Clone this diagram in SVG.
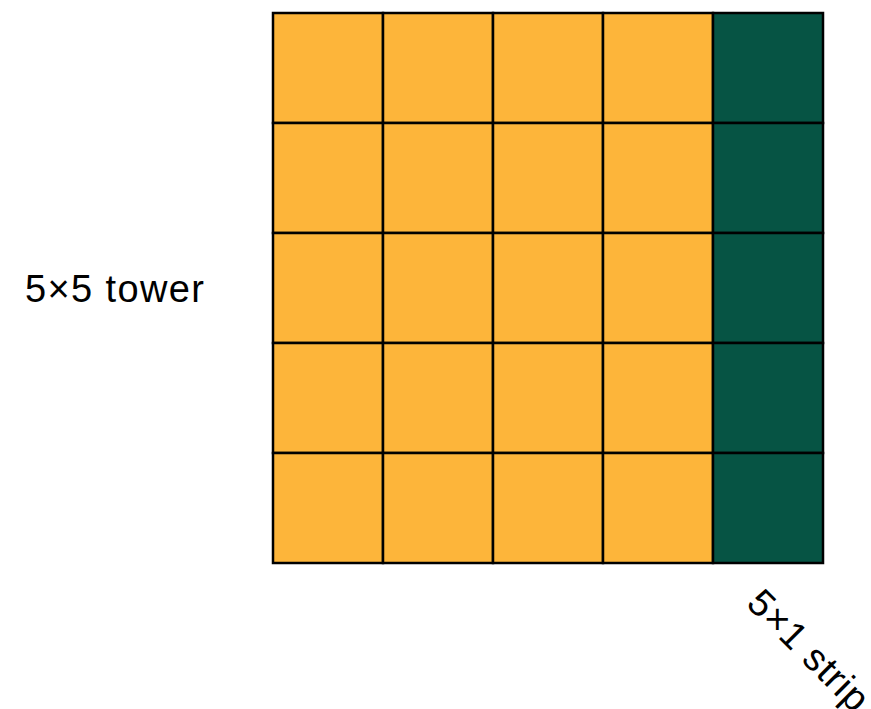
<svg xmlns="http://www.w3.org/2000/svg" width="871" height="709" viewBox="0 0 871 709">
<style>
.o{fill:#FDB53A;stroke:#000;stroke-width:2.5}
.g{fill:#065444;stroke:#000;stroke-width:2.5}
.t{font-family:"Liberation Sans",Arial,sans-serif;font-size:38px;fill:#000}
</style>
<rect width="871" height="709" fill="#fff"/>
<g id="tower">
<rect class="o" x="273" y="13" width="110" height="110"/><rect class="o" x="383" y="13" width="110" height="110"/><rect class="o" x="493" y="13" width="110" height="110"/><rect class="o" x="603" y="13" width="110" height="110"/>
<rect class="o" x="273" y="123" width="110" height="110"/><rect class="o" x="383" y="123" width="110" height="110"/><rect class="o" x="493" y="123" width="110" height="110"/><rect class="o" x="603" y="123" width="110" height="110"/>
<rect class="o" x="273" y="233" width="110" height="110"/><rect class="o" x="383" y="233" width="110" height="110"/><rect class="o" x="493" y="233" width="110" height="110"/><rect class="o" x="603" y="233" width="110" height="110"/>
<rect class="o" x="273" y="343" width="110" height="110"/><rect class="o" x="383" y="343" width="110" height="110"/><rect class="o" x="493" y="343" width="110" height="110"/><rect class="o" x="603" y="343" width="110" height="110"/>
<rect class="o" x="273" y="453" width="110" height="110"/><rect class="o" x="383" y="453" width="110" height="110"/><rect class="o" x="493" y="453" width="110" height="110"/><rect class="o" x="603" y="453" width="110" height="110"/>
</g>
<g id="strip">
<rect class="g" x="713" y="13" width="110" height="110"/>
<rect class="g" x="713" y="123" width="110" height="110"/>
<rect class="g" x="713" y="233" width="110" height="110"/>
<rect class="g" x="713" y="343" width="110" height="110"/>
<rect class="g" x="713" y="453" width="110" height="110"/>
</g>
<g id="labels">
<text class="t" x="25" y="302" textLength="179" lengthAdjust="spacing">5×5 tower</text>
<text class="t" x="745" y="605" transform="rotate(45 745 605)" textLength="154" lengthAdjust="spacing">5×1 strip</text>
</g>
</svg>
